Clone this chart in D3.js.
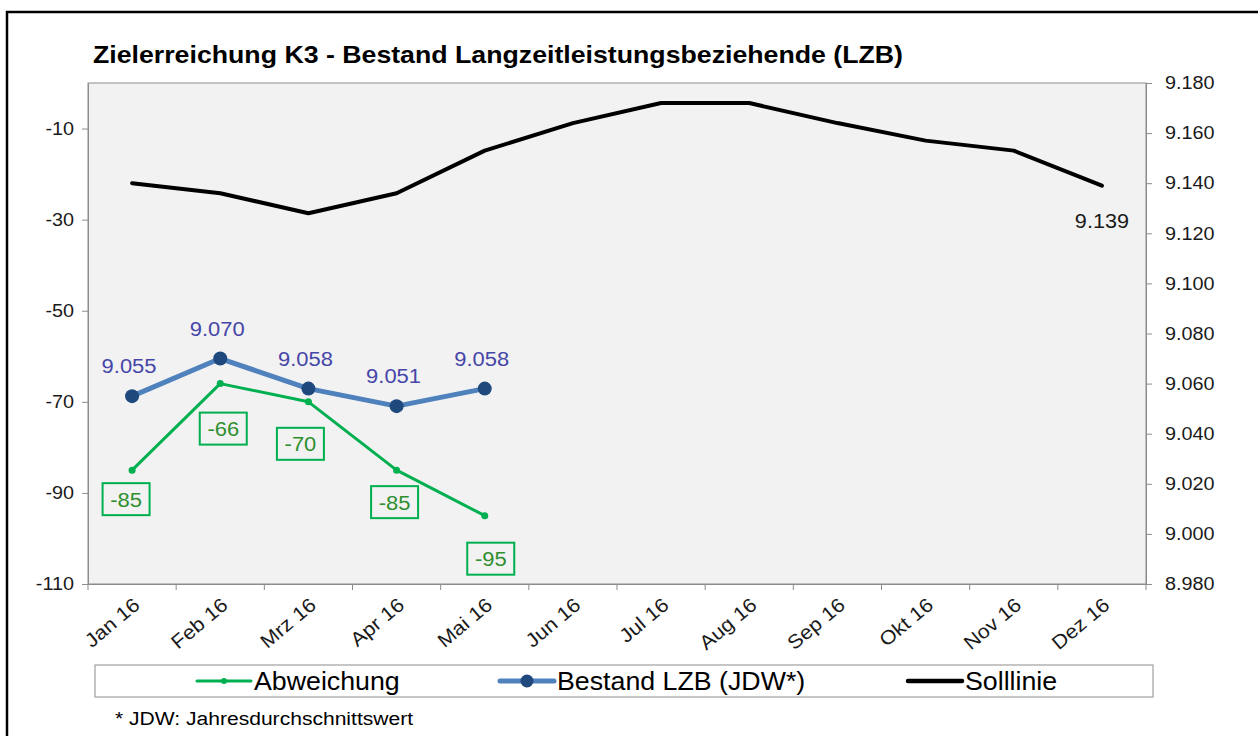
<!DOCTYPE html>
<html><head><meta charset="utf-8">
<script src="https://cdn.jsdelivr.net/npm/d3@7"></script>
<style>
html,body{margin:0;padding:0;background:#fff;}
svg{display:block;font-family:"Liberation Sans",Arial,sans-serif;}
</style></head>
<body>
<svg id="chart" width="1258" height="736"></svg>
<script>
const months = ["Jan 16","Feb 16","Mrz 16","Apr 16","Mai 16","Jun 16","Jul 16","Aug 16","Sep 16","Okt 16","Nov 16","Dez 16"];
const abweichung = [-85,-66,-70,-85,-95];
const bestand = [9055,9070,9058,9051,9058];
const solllinie = [9140,9136,9128,9136,9153,9164,9172,9172,9164,9157,9153,9139];
const leftTicks = [-110,-90,-70,-50,-30,-10];
const rightTicks = [8980,9000,9020,9040,9060,9080,9100,9120,9140,9160,9180];
const seriesNames = ["Abweichung","Bestand LZB (JDW*)","Solllinie"];
const titleText = "Zielerreichung K3 - Bestand Langzeitleistungsbeziehende (LZB)";
const footnote = "* JDW: Jahresdurchschnittswert";
// label placement tweaks for the green boxed labels (dx, dy relative to point)
const abwLabelShift = [[-6,29],[3,45],[-8,42],[-2,32],[6,43]];

const de = d3.formatLocale({decimal:",",thousands:".",grouping:[3],currency:["","€"]});
const fmt = de.format(",d");

// horizontal stretch helper (reference text is slightly wider than tall)
function stretch(sel, k){
  sel.each(function(){
    const w = this.getComputedTextLength();
    d3.select(this).attr("textLength", w*k).attr("lengthAdjust","spacingAndGlyphs");
  });
}

const svg = d3.select("#chart");
const L=88, R=1146, T=83, B=584;

// outer frame
svg.append("rect").attr("x",7).attr("y",12).attr("width",1300).attr("height",800)
  .attr("fill","none").attr("stroke","#000").attr("stroke-width",2.5);

// title
svg.append("text").attr("x",93).attr("y",63).attr("font-size",24).attr("font-weight","bold")
  .attr("fill","#000").attr("textLength",810).attr("lengthAdjust","spacingAndGlyphs").text(titleText);

const x = d3.scaleBand().domain(months).range([L,R]).paddingInner(0).paddingOuter(0);
const yL = d3.scaleLinear().domain([-110,0]).range([B,T]);
const yR = d3.scaleLinear().domain([8980,9180]).range([B,T]);
const cx = i => x(months[i]) + x.bandwidth()/2;

// plot area
svg.append("rect").attr("x",L).attr("y",T).attr("width",R-L).attr("height",B-T)
  .attr("fill","#F2F2F2").attr("stroke","#8c8c8c").attr("stroke-width",1);

// left axis
const gl = svg.append("g").attr("transform",`translate(${L},0)`)
  .call(d3.axisLeft(yL).tickValues(leftTicks).tickSize(6).tickSizeOuter(0).tickPadding(8).tickFormat(d=>String(d)));
// right axis
const gr = svg.append("g").attr("transform",`translate(${R},0)`)
  .call(d3.axisRight(yR).tickValues(rightTicks).tickSize(6).tickSizeOuter(0).tickPadding(13).tickFormat(fmt));
// x axis (ticks between categories)
const gx = svg.append("g").attr("transform",`translate(0,${B})`)
  .call(d3.axisBottom(x).tickSize(0).tickFormat(d=>d));
const bounds = months.map(m=>x(m)).concat([R]);
gx.selectAll(".bt").data(bounds).enter().append("line").attr("class","bt")
  .attr("x1",d=>d).attr("x2",d=>d).attr("y1",0).attr("y2",6).attr("stroke","#8c8c8c");

[gl,gr,gx].forEach(g=>{
  g.select(".domain").attr("stroke","#8c8c8c");
  g.selectAll(".tick line").attr("stroke","#8c8c8c");
  g.selectAll(".tick text").attr("font-size",18).attr("fill","#1a1a1a").attr("font-family","'Liberation Sans',Arial,sans-serif");
});
gx.selectAll(".tick text").attr("font-size",19.5).attr("text-anchor","end").attr("y",0).attr("dy","0")
  .attr("transform","translate(9,23) rotate(-40)");
stretch(gl.selectAll(".tick text"),1.1);
stretch(gr.selectAll(".tick text"),1.1);
stretch(gx.selectAll(".tick text"),1.1);

// Solllinie
const lineR = d3.line().x((d,i)=>cx(i)).y(d=>yR(d));
svg.append("path").datum(solllinie).attr("d",lineR).attr("fill","none")
  .attr("stroke","#000").attr("stroke-width",4).attr("stroke-linejoin","round").attr("stroke-linecap","round");
svg.append("text").attr("x",cx(11)).attr("y",yR(solllinie[11])+42).attr("text-anchor","middle")
  .attr("font-size",20).attr("fill","#1a1a1a").text(fmt(solllinie[11]))
  .call(s=>stretch(s,1.08));

// Bestand
svg.append("path").datum(bestand).attr("d",lineR).attr("fill","none")
  .attr("stroke","#4F81BD").attr("stroke-width",5).attr("stroke-linejoin","round");
svg.selectAll(".bm").data(bestand).enter().append("circle")
  .attr("cx",(d,i)=>cx(i)).attr("cy",d=>yR(d)).attr("r",7).attr("fill","#1F497D");
svg.selectAll(".bl").data(bestand).enter().append("text")
  .attr("x",(d,i)=>cx(i)-3).attr("y",d=>yR(d)-23).attr("text-anchor","middle")
  .attr("font-size",20.5).attr("fill","#4646A8").text(d=>fmt(d))
  .call(s=>stretch(s,1.07));

// Abweichung
const lineL = d3.line().x((d,i)=>cx(i)).y(d=>yL(d));
svg.append("path").datum(abweichung).attr("d",lineL).attr("fill","none")
  .attr("stroke","#00B050").attr("stroke-width",3).attr("stroke-linejoin","round");
svg.selectAll(".am").data(abweichung).enter().append("circle")
  .attr("cx",(d,i)=>cx(i)).attr("cy",d=>yL(d)).attr("r",3.5).attr("fill","#00B050");
const ag = svg.selectAll(".al").data(abweichung).enter().append("g")
  .attr("transform",(d,i)=>`translate(${cx(i)+abwLabelShift[i][0]},${yL(d)+abwLabelShift[i][1]})`);
ag.append("rect").attr("x",-23.5).attr("y",-16).attr("width",47).attr("height",32)
  .attr("fill","none").attr("stroke","#00B050").attr("stroke-width",2);
ag.append("text").attr("text-anchor","middle").attr("y",7.5).attr("font-size",20.5)
  .attr("fill","#2F8F2F").text(d=>d).call(s=>stretch(s,1.07));

// legend
svg.append("rect").attr("x",95).attr("y",665).attr("width",1058).attr("height",32)
  .attr("fill","#fff").attr("stroke","#a0a0a0").attr("stroke-width",1.2);
const leg = [
  {x:197, color:"#00B050", w:3, r:3, mc:"#00B050"},
  {x:500, color:"#4F81BD", w:5, r:6.5, mc:"#1F497D"},
  {x:908, color:"#000", w:4.5, r:0, mc:"#000"}
];
leg.forEach((l,i)=>{
  svg.append("line").attr("x1",l.x).attr("x2",l.x+54).attr("y1",681).attr("y2",681)
    .attr("stroke",l.color).attr("stroke-width",l.w).attr("stroke-linecap","round");
  if(l.r>0) svg.append("circle").attr("cx",l.x+27).attr("cy",681).attr("r",l.r).attr("fill",l.mc);
  svg.append("text").attr("x",l.x+57).attr("y",690).attr("font-size",25).attr("fill","#000").text(seriesNames[i])
    .call(s=>stretch(s,1.07));
});

// footnote
svg.append("text").attr("x",115).attr("y",725).attr("font-size",18).attr("fill","#000").text(footnote)
  .call(s=>stretch(s,1.17));
</script>
</body></html>
